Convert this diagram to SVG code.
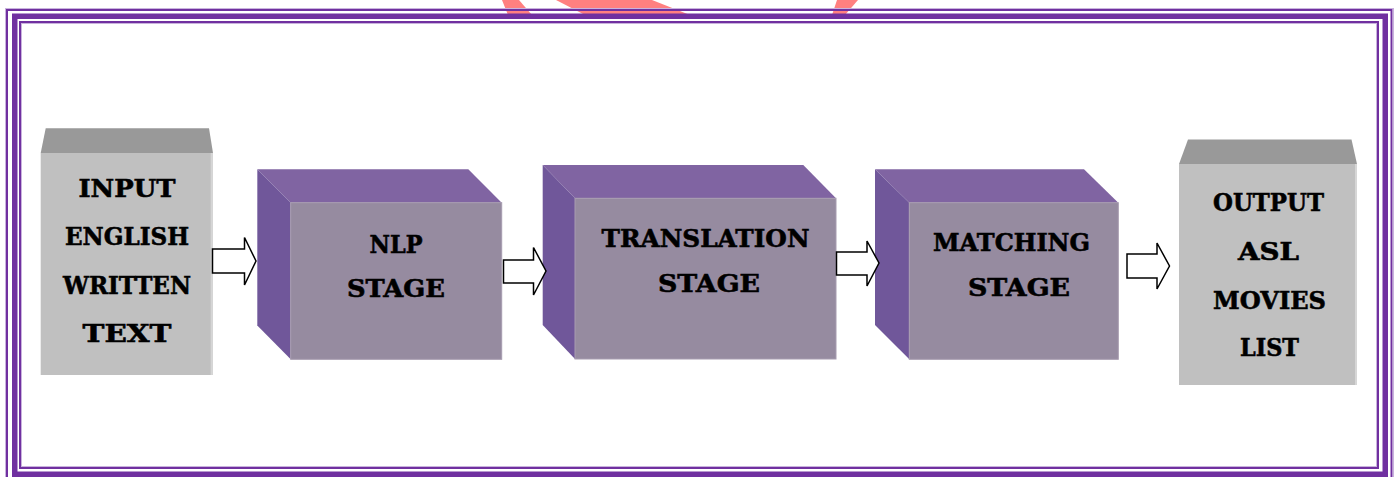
<svg xmlns="http://www.w3.org/2000/svg" width="1397" height="477" viewBox="0 0 1397 477">
<style>
.frame{fill:none;stroke:#7030a0}
.lav{fill:none;stroke:#c9b3dd;stroke-width:1}
.wm{fill:#ff8080}
.gtop{fill:#999999}
.gfront{fill:#c0c0c0}
.gedge{fill:#d6d6d6}
.ctop{fill:#8064a2}
.cside{fill:#70579a}
.cfront{fill:#968ba0;stroke:#a79cb0;stroke-width:1}
.lbl{font-family:"DejaVu Serif","Liberation Serif",serif;font-weight:bold;font-size:25px;fill:#000;stroke:#000;stroke-width:0.6;text-anchor:middle}
.arr{fill:#fff;stroke:#000;stroke-width:1.5;stroke-linejoin:miter}
</style>
<rect width="1397" height="477" fill="#fff"/>
<g id="watermark">
<polygon class="wm" points="502,0 519,0 532,15 508,15"/>
<polygon class="wm" points="556,0 652,0 690,15 585,15"/>
<polygon class="wm" points="837,0 858,0 845,15 832,15"/>
</g>
<g id="frame">
<rect class="lav" x="5.5" y="8.5" width="1388" height="480"/>
<rect class="frame" x="7" y="10" width="1384.5" height="475" stroke-width="2"/>
<rect class="frame" x="14.75" y="16.25" width="1370.5" height="458" stroke-width="5.5"/>
<rect class="frame" x="20" y="22" width="1358" height="446" stroke-width="2"/>
<rect class="lav" x="21.5" y="23.5" width="1355" height="443"/>
</g>
<g id="input">
<polygon class="gtop" points="45.7,128.3 209,128.3 213,153 40.7,153"/>
<rect class="gfront" x="40.7" y="153" width="172" height="222"/>
<rect class="gedge" x="210.7" y="153" width="2" height="222"/>
<text class="lbl" x="127" y="197" textLength="97" lengthAdjust="spacingAndGlyphs">INPUT</text>
<text class="lbl" x="127" y="245" textLength="124" lengthAdjust="spacingAndGlyphs">ENGLISH</text>
<text class="lbl" x="127" y="293.5" textLength="128" lengthAdjust="spacingAndGlyphs">WRITTEN</text>
<text class="lbl" x="127" y="342" textLength="89" lengthAdjust="spacingAndGlyphs">TEXT</text>
</g>
<g id="nlp">
<polygon class="ctop" points="257.3,169.3 468.3,169.3 501.7,202.7 290.7,202.7"/>
<polygon class="cside" points="257.3,169.3 290.7,202.7 290.7,359.3 257.3,325.5"/>
<rect class="cfront" x="290.7" y="202.7" width="211" height="156.6"/>
<text class="lbl" x="396" y="253" textLength="53" lengthAdjust="spacingAndGlyphs">NLP</text>
<text class="lbl" x="396" y="297" textLength="98" lengthAdjust="spacingAndGlyphs">STAGE</text>
</g>
<g id="translation">
<polygon class="ctop" points="542.7,165 803.3,165 836,198.3 575,198.3"/>
<polygon class="cside" points="542.7,165 575,198.3 575,359 542.7,325"/>
<rect class="cfront" x="575" y="198.3" width="261" height="160.7"/>
<text class="lbl" x="705.5" y="247" textLength="208" lengthAdjust="spacingAndGlyphs">TRANSLATION</text>
<text class="lbl" x="709" y="292" textLength="102" lengthAdjust="spacingAndGlyphs">STAGE</text>
</g>
<g id="matching">
<polygon class="ctop" points="875,169.3 1084,169.3 1118.3,202.7 909.3,202.7"/>
<polygon class="cside" points="875,169.3 909.3,202.7 909.3,359.3 875,325"/>
<rect class="cfront" x="909.3" y="202.7" width="209" height="156.6"/>
<text class="lbl" x="1011.5" y="250.5" textLength="157" lengthAdjust="spacingAndGlyphs">MATCHING</text>
<text class="lbl" x="1019" y="296" textLength="102" lengthAdjust="spacingAndGlyphs">STAGE</text>
</g>
<g id="output">
<polygon class="gtop" points="1188,139.5 1351.5,139.5 1357,164 1179,164"/>
<rect class="gfront" x="1179" y="164" width="178" height="221"/>
<rect class="gedge" x="1355" y="164" width="2" height="221"/>
<text class="lbl" x="1268.5" y="211" textLength="111" lengthAdjust="spacingAndGlyphs">OUTPUT</text>
<text class="lbl" x="1268.5" y="260" textLength="61" lengthAdjust="spacingAndGlyphs">ASL</text>
<text class="lbl" x="1269.5" y="309" textLength="113" lengthAdjust="spacingAndGlyphs">MOVIES</text>
<text class="lbl" x="1269.5" y="356" textLength="59" lengthAdjust="spacingAndGlyphs">LIST</text>
</g>
<g id="connectors">
<polygon class="arr" points="212.5,249 244.5,249 244.5,237.5 256,261 244.5,285 244.5,273 212.5,273"/>
<polygon class="arr" points="503.5,260 533.5,260 533.5,247.5 546,271 533.5,295 533.5,283 503.5,283"/>
<polygon class="arr" points="836.5,252 867,252 867,241 879,263 867,286 867,275 836.5,275"/>
<polygon class="arr" points="1127,254 1157,254 1157,243 1169.5,266 1157,289 1157,278 1127,278"/>
</g>
</svg>
